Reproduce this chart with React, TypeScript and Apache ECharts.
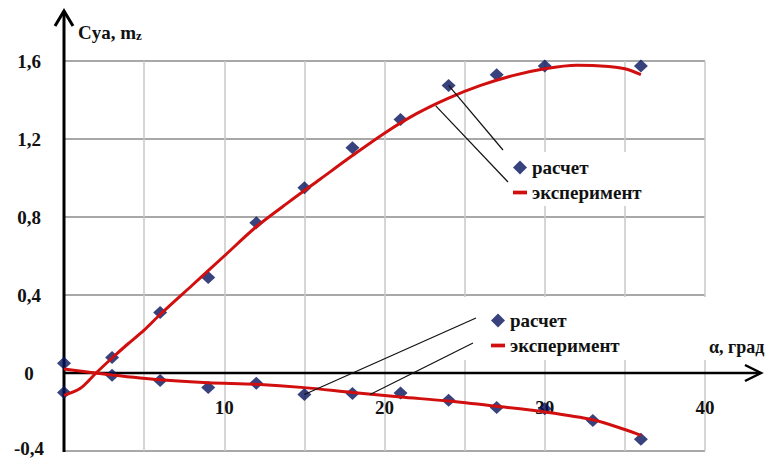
import React, { useEffect, useRef } from 'react';
import * as echarts from 'echarts';

// ---- data ----
const calcAlpha = [0, 3, 6, 9, 12, 15, 18, 21, 24, 27, 30, 33, 36];
const cyaCalc = [0.05, 0.08, 0.31, 0.49, 0.77, 0.95, 1.155, 1.3, 1.475, 1.53, 1.574, 1.615, 1.575];
const mzCalc = [-0.1, -0.012, -0.038, -0.074, -0.053, -0.11, -0.105, -0.103, -0.14, -0.177, -0.183, -0.243, -0.34];

const cyaExpAlpha = [0, 1, 2, 3, 4, 5, 6, 8, 10, 12, 14, 16, 18, 20, 22, 24, 26, 28, 30, 32, 34, 35, 36];
const cyaExp = [-0.115, -0.08, 0.0, 0.077, 0.15, 0.22, 0.3, 0.45, 0.6, 0.75, 0.875, 0.995, 1.115, 1.23, 1.33, 1.41, 1.475, 1.525, 1.56, 1.578, 1.572, 1.56, 1.53];

const mzExpAlpha = [0, 3, 6, 9, 12, 15, 18, 21, 24, 27, 30, 33, 35, 36];
const mzExp = [0.02, -0.01, -0.035, -0.05, -0.058, -0.075, -0.1, -0.123, -0.144, -0.171, -0.2, -0.24, -0.29, -0.32];

const legendNames = ['расчет', 'эксперимент'];
const xName = 'α, град';
const yNameMain = 'Cya, m';
const yNameSub = 'z';

const X_MIN = 0, X_MAX = 40, X_STEP = 5;
const Y_MIN = -0.4, Y_MAX = 1.6, Y_STEP = 0.4;

const FONT = 'Liberation Serif, Times New Roman, serif';
const TXT = '#111111';
const NAVY = '#06145e';
const RED = '#d20f0f';

const W = 770, H = 459;
const GRID = { left: 64, right: 65, top: 61, bottom: 8 };

const zip = (a: number[], b: number[]) => a.map((v, i) => [v, b[i]]);

export default function App() {
  const ref = useRef<HTMLDivElement>(null);
  useEffect(() => {
    const chart = echarts.init(ref.current!, null, { renderer: 'svg' });
    const textStyle = { fontFamily: FONT, fontWeight: 'bold' as const, fontSize: 19, color: TXT };
    const gridH = H - GRID.top - GRID.bottom;
    const zeroOffset = -(gridH * (0 - Y_MIN)) / (Y_MAX - Y_MIN);
    const legendBase = {
      orient: 'vertical' as const,
      itemWidth: 14,
      itemHeight: 14,
      itemGap: 6,
      itemTextGap: 5,
      backgroundColor: '#ffffff',
      selectedMode: false,
      symbolKeepAspect: true,
      textStyle,
      data: [
        { name: legendNames[0], icon: 'diamond' },
        { name: legendNames[1], icon: 'path://M0,0L15,0L15,4L0,4Z' },
      ],
    };
    const fmtY = (v: number) => (Math.abs(v) < 1e-9 ? '0' : v.toFixed(1).replace('.', ','));
    const option: any = {
      animation: false,
      backgroundColor: '#ffffff',
      textStyle: { fontFamily: FONT },
      grid: { ...GRID, containLabel: false, outerBoundsMode: 'none' },
      legend: [
        { ...legendBase, left: 508, top: 152, padding: [6, 6, 4, 5] },
        { ...legendBase, left: 460, top: 297, padding: [14, 88, 5, 31] },
      ],
      xAxis: {
        type: 'value',
        min: X_MIN,
        max: X_MAX,
        interval: X_STEP,
        position: 'bottom',
        offset: zeroOffset,
        axisLine: { show: false, onZero: false },
        axisTick: { show: false },
        splitLine: { show: true, lineStyle: { color: '#c8c8c8', width: 1.5 } },
        axisLabel: {
          ...textStyle,
          margin: 25,
          formatter: (v: number) => (v % 10 === 0 && v !== 0 ? String(v) : ''),
        },
        name: xName,
        nameLocation: 'end',
        nameGap: 4,
        nameTextStyle: { ...textStyle, fontSize: 18, align: 'left', verticalAlign: 'bottom', padding: [0, 0, 17, 0] },
      },
      yAxis: {
        type: 'value',
        min: Y_MIN,
        max: Y_MAX,
        interval: Y_STEP,
        axisLine: { show: false },
        axisTick: { show: false },
        splitLine: { show: true, lineStyle: { color: '#a8a8a8', width: 2 } },
        axisLabel: {
          ...textStyle,
          align: 'center',
          margin: 35,
          formatter: (v: number) => (Math.abs(v - Y_MIN) < 1e-9 ? `{m|${fmtY(v)}}` : fmtY(v)),
          rich: {
            m: { ...textStyle, padding: [0, 0, 6, 0] },
          },
        },
        name: `{a|${yNameMain}}{b|${yNameSub}}`,
        nameLocation: 'end',
        nameGap: 29,
        nameTextStyle: {
          fontFamily: FONT,
          fontWeight: 'bold',
          fontSize: 19,
          color: TXT,
          align: 'left',
          verticalAlign: 'middle',
          padding: [0, 0, 0, 14],
          rich: {
            a: { fontFamily: FONT, fontWeight: 'bold', fontSize: 19, color: TXT },
            b: { fontFamily: FONT, fontWeight: 'bold', fontSize: 13, color: TXT, verticalAlign: 'bottom' },
          },
        },
      },
      series: [
        {
          name: legendNames[0],
          type: 'scatter',
          data: zip(calcAlpha, cyaCalc),
          symbol: 'diamond',
          symbolSize: [14, 13],
          itemStyle: { color: NAVY },
          z: 2,
        },
        {
          name: legendNames[1],
          type: 'line',
          data: zip(cyaExpAlpha, cyaExp),
          smooth: 0.3,
          showSymbol: false,
          lineStyle: { color: RED, width: 3 },
          itemStyle: { color: RED },
          z: 3,
        },
        {
          name: legendNames[0],
          type: 'scatter',
          data: zip(calcAlpha, mzCalc),
          symbol: 'diamond',
          symbolSize: [14, 13],
          itemStyle: { color: NAVY },
          z: 2,
        },
        {
          name: legendNames[1],
          type: 'line',
          data: zip(mzExpAlpha, mzExp),
          smooth: 0.3,
          showSymbol: false,
          lineStyle: { color: RED, width: 3 },
          itemStyle: { color: RED },
          z: 3,
        },
      ],
    };
    chart.setOption(option);

    const P = (p: number[]) => chart.convertToPixel({ gridIndex: 0 }, p) as number[];
    const o = P([0, 0]);
    const yb = P([0, Y_MIN]);
    const yt = P([0, Y_MAX]);
    const xr = P([X_MAX, 0]);
    const yTip = yt[1] - 50;
    const xTip = xr[0] + 56;
    const leader = (from: number[], to: number[]) => {
      const t = P(to);
      return {
        type: 'line',
        z: 100,
        shape: { x1: from[0], y1: from[1], x2: t[0], y2: t[1] },
        style: { stroke: '#111', lineWidth: 1.2 },
      };
    };
    chart.setOption({
      graphic: {
        elements: [
          { type: 'line', z: 1, shape: { x1: o[0], y1: yb[1] + 1, x2: o[0], y2: yTip + 1 }, style: { stroke: '#000', lineWidth: 3 } },
          { type: 'polyline', z: 1, shape: { points: [[o[0] - 9, yTip + 15], [o[0], yTip], [o[0] + 9, yTip + 15]] }, style: { stroke: '#000', lineWidth: 3, fill: 'none' } },
          { type: 'line', z: 1, shape: { x1: o[0], y1: o[1], x2: xTip - 1, y2: o[1] }, style: { stroke: '#000', lineWidth: 2.5 } },
          { type: 'polyline', z: 1, shape: { points: [[xTip - 16, o[1] - 8], [xTip, o[1]], [xTip - 16, o[1] + 8]] }, style: { stroke: '#000', lineWidth: 2.5, fill: 'none' } },
          leader([503, 150], [24, 1.475]),
          leader([508, 182], [23.2, 1.37]),
          leader([476, 318], [15, -0.11]),
          leader([473, 343], [19.1, -0.11]),
        ],
      },
    });
    return () => chart.dispose();
  }, []);
  return (
    <div
      ref={ref}
      style={{ position: 'fixed', left: 0, top: 0, width: W, height: H, background: '#fff' }}
    />
  );
}
